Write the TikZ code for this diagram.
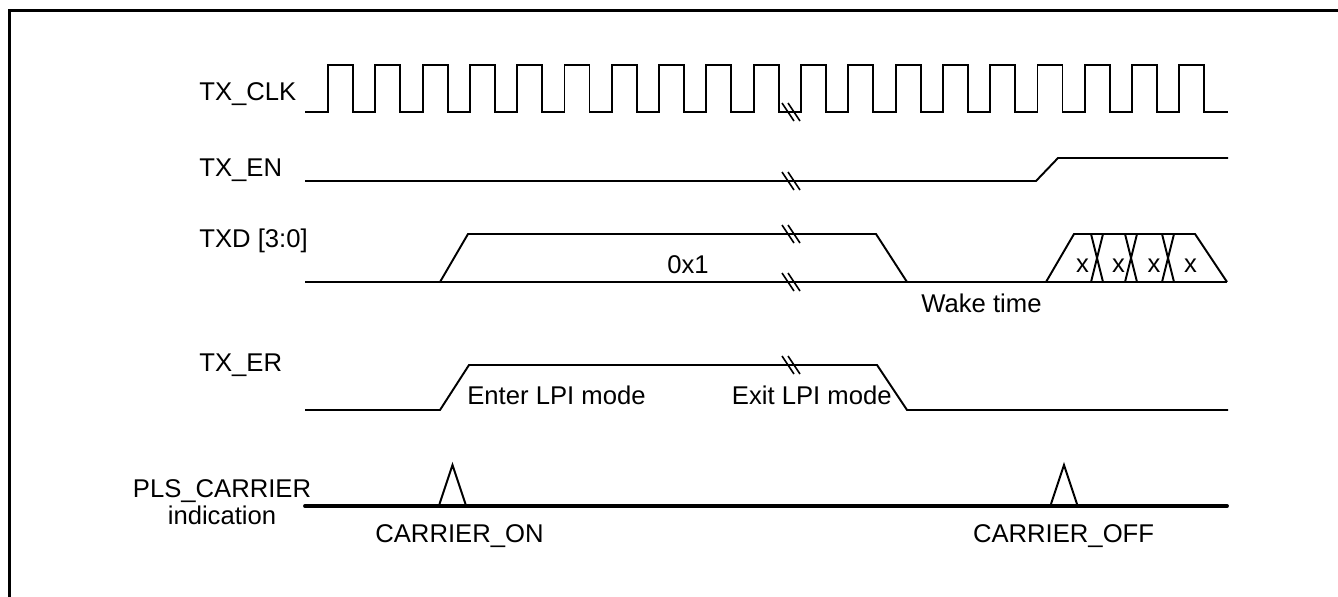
\documentclass[tikz,border=0pt]{standalone}
\usepackage{fontspec}
\setmainfont{Liberation Sans}
\usetikzlibrary{positioning}
\definecolor{TInk}{HTML}{000000}
\tikzset{
  sig/.style={TInk,line width=1.1pt,line join=miter},
  lbl/.style={font=\fontsize{14.6}{17}\selectfont,inner sep=0pt},
  brkmark/.pic={\draw[TInk,line width=0.9pt] (-9,-9) -- (3,9) (-3,-9) -- (9,9);}
}

\begin{document}
\begin{tikzpicture}[x=0.02cm,y=-0.02cm]
  \useasboundingbox (0,0) rectangle (1338,597);
  % outer frame, cut by the page
  \draw[TInk,line width=1.7pt] (9.5,610) -- (9.5,11) -- (1350,11);

  % signal names
  \node[lbl,anchor=base west] (clkname) at (199,101) {TX\_CLK};
  \node[lbl,anchor=base west] (enname) at (199,177) {TX\_EN};
  \node[lbl,anchor=base west] (txdname) at (199,248) {TXD [3:0]};
  \node[lbl,anchor=base west] (ername) at (199,372) {TX\_ER};
  \node[lbl,anchor=base] (plsname) at (222,498) {PLS\_CARRIER};
  \node[lbl,anchor=base] (plssub) at (222,524) {indication};

  % TX_CLK
  \draw[sig] (305,112) \foreach \i in {0,...,18}{
      -- ({328+47.3*\i},112) -- ++(0,-47) -- ++(25,0) -- ++(0,47) } -- (1228,112);

  % TX_EN
  \draw[sig] (305,181) -- (1036,181) -- (1058,158) -- (1228,158);

  % TXD [3:0]
  \draw[sig] (305,282) -- (1227,282);
  \draw[sig] (440,282) -- (468,234) -- (876,234) -- (907,282);
  \draw[sig] (1046,282) -- (1074,234) -- (1195,234) -- (1227,282);
  \foreach \c in {1097,1131,1168}
    \draw[sig] (\c-6,234) -- (\c+6,282) (\c+6,234) -- (\c-6,282);
  \node[lbl,anchor=base west] (lpival) at (667,274) {0x1};
  \foreach \x/\n in {1082.5/a,1118.5/b,1154/c,1190.5/d}
    \node[lbl,anchor=base] (dat\n) at (\x,273) {x};
  \node[lbl,anchor=base west] (wake) at (921,313) {Wake time};

  % TX_ER
  \draw[sig] (305,410) -- (440,410) -- (469,365) -- (877,365) -- (907,410) -- (1228,410);
  \node[lbl,anchor=base west] (enter) at (467,405) {Enter LPI mode};
  \node[lbl,anchor=base east] (exit) at (892,405) {Exit LPI mode};

  % PLS_CARRIER indication
  \draw[TInk,line width=2.2pt,line cap=round] (305,506) -- (1227,506);
  \foreach \p in {452.5,1064}
    \draw[sig] (\p-13,504) -- (\p,465) -- (\p+13,504);
  \node[lbl,anchor=base west] (caron) at (375,542) {CARRIER\_ON};
  \node[lbl,anchor=base west] (caroff) at (972.7,542) {CARRIER\_OFF};

  % breaks in time
  \foreach \y in {112,181,234,282,365}
    \pic at (791,\y) {brkmark};
\end{tikzpicture}
\end{document}
